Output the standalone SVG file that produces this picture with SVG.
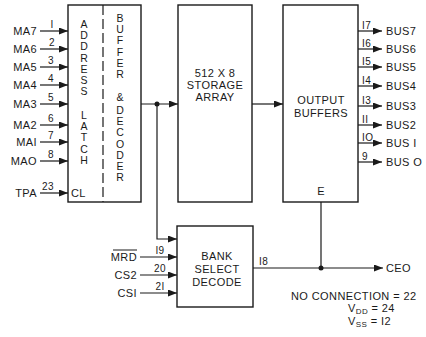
<svg xmlns="http://www.w3.org/2000/svg" width="426" height="337" viewBox="0 0 426 337">
<style>
.b{fill:none;stroke:#1a1a1a;stroke-width:1.4}
.l{fill:none;stroke:#1a1a1a;stroke-width:1.2}
text{font-family:"Liberation Sans",Arial,sans-serif;font-size:11px;fill:#1a1a1a;letter-spacing:0.4px}
.m{text-anchor:middle}
.e{text-anchor:end}
.s{font-size:10px}
.v{writing-mode:vertical-rl;text-orientation:upright;font-size:10.5px;letter-spacing:-0.8px}
</style>
<defs>
<marker id="a" markerWidth="9" markerHeight="7" refX="9" refY="3.5" orient="auto" markerUnits="userSpaceOnUse"><path d="M0,0 L9,3.5 L0,7 Z" fill="#1a1a1a"/></marker>
</defs>
<rect width="426" height="337" fill="#fff"/>
<g id="latch">
<rect class="b" x="68" y="5" width="73" height="197"/>
<line x1="103" y1="5" x2="103" y2="202" stroke="#1a1a1a" stroke-width="1.2" stroke-dasharray="10,4"/>
<text class="v" x="84" y="18">ADDRESS</text>
<text class="v" x="84" y="109">LATCH</text>
<text x="71" y="197">CL</text>
<text class="v" x="120" y="12">BUFFER</text>
<text class="v" x="120" y="91">&amp;</text>
<text class="v" x="120" y="104">DECODER</text>
</g>
<g id="storage">
<rect class="b" x="178" y="5" width="74" height="197"/>
<text class="m" x="215" y="77">512 X 8</text>
<text class="m" x="215" y="89">STORAGE</text>
<text class="m" x="215" y="101">ARRAY</text>
</g>
<g id="output">
<rect class="b" x="283" y="5" width="75" height="197"/>
<text class="m" x="321" y="104">OUTPUT</text>
<text class="m" x="321" y="117">BUFFERS</text>
<text class="m" x="321" y="195">E</text>
</g>
<g id="bank">
<rect class="b" x="177" y="226" width="76" height="81"/>
<text class="m" x="217" y="260">BANK</text>
<text class="m" x="217" y="273">SELECT</text>
<text class="m" x="217" y="286">DECODE</text>
</g>
<g id="connectors">
<g class="l" marker-end="url(#a)">
<line x1="40" y1="31" x2="68" y2="31"/>
<line x1="40" y1="49" x2="68" y2="49"/>
<line x1="40" y1="67" x2="68" y2="67"/>
<line x1="40" y1="85" x2="68" y2="85"/>
<line x1="40" y1="104" x2="68" y2="104"/>
<line x1="40" y1="125" x2="68" y2="125"/>
<line x1="40" y1="142" x2="68" y2="142"/>
<line x1="40" y1="161" x2="68" y2="161"/>
<line x1="40" y1="193" x2="68" y2="193"/>
<line x1="141" y1="104" x2="178" y2="104"/>
<line x1="252" y1="104" x2="283" y2="104"/>
<polyline points="157,104 157,239 177,239"/>
<line x1="140" y1="257" x2="177" y2="257"/>
<line x1="140" y1="275" x2="177" y2="275"/>
<line x1="140" y1="293" x2="177" y2="293"/>
<line x1="253" y1="268" x2="383" y2="268"/>
<line x1="358" y1="31" x2="382" y2="31"/>
<line x1="358" y1="49" x2="382" y2="49"/>
<line x1="358" y1="67" x2="382" y2="67"/>
<line x1="358" y1="86" x2="382" y2="86"/>
<line x1="358" y1="106" x2="382" y2="106"/>
<line x1="358" y1="125" x2="382" y2="125"/>
<line x1="358" y1="143" x2="382" y2="143"/>
<line x1="358" y1="162" x2="382" y2="162"/>
</g>
<line class="l" x1="321" y1="202" x2="321" y2="268"/>
<circle cx="157" cy="104" r="2.5" fill="#1a1a1a"/>
<circle cx="321" cy="268" r="2.5" fill="#1a1a1a"/>
</g>
<g id="labels">
<text class="e" x="37" y="35">MA7</text>
<text class="e" x="37" y="53">MA6</text>
<text class="e" x="37" y="71">MA5</text>
<text class="e" x="37" y="89">MA4</text>
<text class="e" x="37" y="108">MA3</text>
<text class="e" x="37" y="129">MA2</text>
<text class="e" x="37" y="146">MAI</text>
<text class="e" x="37" y="165">MAO</text>
<text class="e" x="37" y="197">TPA</text>
<text class="m s" x="52" y="28">I</text>
<text class="m s" x="52" y="46">2</text>
<text class="m s" x="51" y="64">3</text>
<text class="m s" x="51" y="82">4</text>
<text class="m s" x="51" y="101">5</text>
<text class="m s" x="51" y="122">6</text>
<text class="m s" x="51" y="139">7</text>
<text class="m s" x="51" y="158">8</text>
<text class="m s" x="48" y="190">23</text>
<text x="362" y="29" class="s">I7</text>
<text x="362" y="47" class="s">I6</text>
<text x="362" y="65" class="s">I5</text>
<text x="362" y="84" class="s">I4</text>
<text x="362" y="104" class="s">I3</text>
<text x="362" y="123" class="s">II</text>
<text x="362" y="141" class="s">IO</text>
<text x="362" y="160" class="s">9</text>
<text x="386" y="35">BUS7</text>
<text x="386" y="53">BUS6</text>
<text x="386" y="71">BUS5</text>
<text x="386" y="90">BUS4</text>
<text x="386" y="110">BUS3</text>
<text x="386" y="129">BUS2</text>
<text x="386" y="147">BUS I</text>
<text x="386" y="166">BUS O</text>
<text class="e" x="137" y="261">MRD</text>
<line x1="113" y1="250" x2="137" y2="250" stroke="#1a1a1a" stroke-width="1"/>
<text class="e" x="137" y="279">CS2</text>
<text class="e" x="137" y="297">CSI</text>
<text class="m s" x="160" y="254">I9</text>
<text class="m s" x="160" y="272">20</text>
<text class="m s" x="160" y="290">2I</text>
<text x="259" y="265" class="s">I8</text>
<text x="386" y="272">CEO</text>
<text x="291" y="300">NO CONNECTION = 22</text>
<text x="348" y="312">V<tspan font-size="8" dy="2">DD</tspan><tspan dy="-2"> = 24</tspan></text>
<text x="348" y="325">V<tspan font-size="8" dy="2">SS</tspan><tspan dy="-2"> = I2</tspan></text>
</g>
</svg>
